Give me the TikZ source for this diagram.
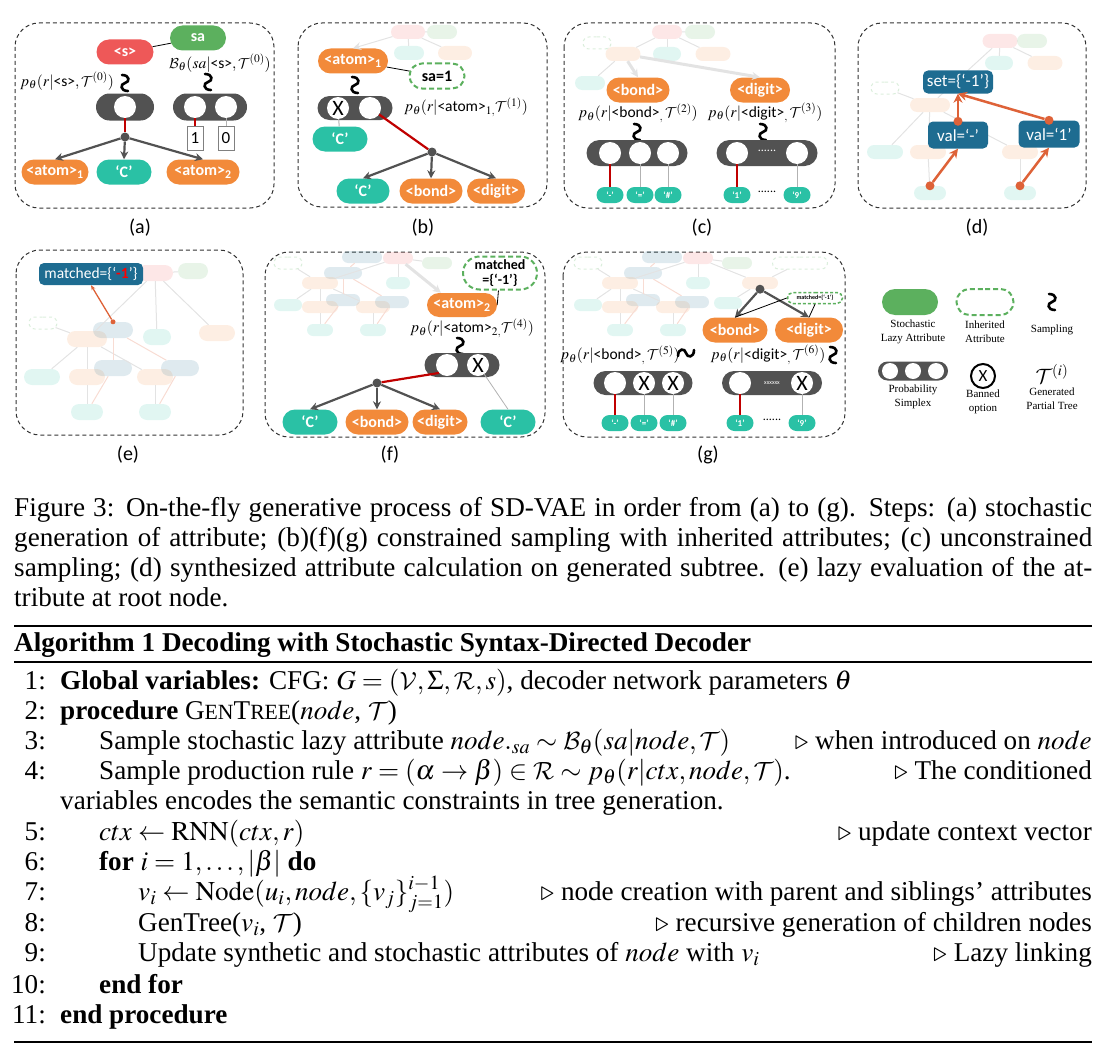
\documentclass[tikz,border=0pt]{standalone}
\usepackage{amsmath}
\usepackage{mathptmx}
\usepackage{fontspec}
\setmainfont{Liberation Serif}
\setsansfont{Carlito}
\usetikzlibrary{positioning, shapes.misc, arrows.meta, calc}
\DeclareMathAlphabet{\mathcmc}{OMS}{lmsy}{m}{n}

\definecolor{tokorange}{RGB}{242,138,58}
\definecolor{tokteal}{RGB}{42,193,165}
\definecolor{tokred}{RGB}{238,88,88}
\definecolor{tokgreen}{RGB}{92,176,94}
\definecolor{tokblue}{RGB}{30,108,145}
\definecolor{simgray}{RGB}{82,82,82}
\definecolor{pickred}{RGB}{192,0,0}
\definecolor{attorange}{RGB}{222,98,56}

\newcommand{\tkfont}{\sffamily\bfseries\fontsize{16}{16}\selectfont}
\newcommand{\lblfont}{\fontsize{15.5}{15.5}\selectfont}
\newcommand{\capfont}{\fontsize{27.15}{29.9}\selectfont}
\newcommand{\tk}[1]{\text{\sffamily\mdseries #1}}
\newcommand{\gentree}{G{\fontsize{21.7}{21.7}\selectfont EN}T{\fontsize{21.7}{21.7}\selectfont REE}}
% sampling squiggle
\newcommand{\sampsym}[2]{\draw[sampling] (#1-3,#2-8) .. controls (#1+5,#2-8) and (#1+5,#2-1) .. (#1,#2) .. controls (#1-5,#2+1) and (#1-5,#2+8) .. (#1+3,#2+8);}
% faded tree behind (f) and (g)
\newcommand{\oldtree}[1]{%
  \foreach \x/\y/\w/\c [count=\i] in {362/257/40pt/tokblue, 398/258/30pt/tokred, 437/263/30pt/tokgreen,
      343/273/38pt/tokblue, 320/283/36pt/tokorange, 398/283/24pt/tokteal, 288/305/28pt/tokteal,
      343/300/34pt/tokblue, 320/307/36pt/tokorange, 373/307/34pt/tokorange, 392/302/34pt/tokblue,
      320/330/26pt/tokteal, 373/330/26pt/tokteal}
    \node[faded=\c, minimum width=\w, minimum height=12pt] (#1\i) at (\x,\y) {};
  \node[fadedinh, minimum width=28pt] (#10) at (288,263) {};
  \foreach \a/\b in {2/3, 2/5, 2/6, 5/7, 5/9, 5/10, 9/12, 10/13, 0/5}
    \draw[fline] (#1\a) -- (#1\b);
  \foreach \a/\b in {8/4, 11/4, 12/8, 13/11, 4/1}
    \draw[fsynth] (#1\a) -- (#1\b);
}

\begin{document}
\begin{tikzpicture}[
  x=1pt, y=-1pt,
  >={Stealth[length=8pt,width=8pt]},
  every node/.style={inner sep=0pt},
  tok/.style={rounded rectangle, minimum height=25pt, text=white, font=\tkfont},
  otok/.style={tok, fill=tokorange},
  ttok/.style={tok, fill=tokteal},
  rtok/.style={tok, fill=tokred},
  gtok/.style={tok, fill=tokgreen},
  inh/.style={rounded rectangle, draw=tokgreen, line width=2pt, dash pattern=on 5pt off 3pt, minimum height=25pt, font=\tkfont},
  btok/.style={rectangle, rounded corners=5pt, fill=tokblue, text=white, font=\sffamily\fontsize{17}{17}\selectfont, minimum height=26pt},
  simplex/.style={rounded rectangle, fill=simgray, minimum height=26pt},
  optc/.style={circle, fill=white, minimum size=22pt, font=\sffamily\fontsize{22}{22}\selectfont},
  leaftok/.style={rounded rectangle, fill=tokteal, minimum height=16pt, minimum width=27pt, text=white, font=\sffamily\bfseries\fontsize{9}{9}\selectfont},
  bit/.style={draw=gray, fill=white, minimum width=16pt, minimum height=24pt, font=\sffamily\fontsize{17}{17}\selectfont},
  jn/.style={circle, fill=simgray, minimum size=9pt},
  odot/.style={circle, fill=attorange, minimum size=9pt},
  treearrow/.style={draw=simgray, line width=2.2pt, ->},
  pick/.style={draw=pickred, line width=2.2pt},
  skipline/.style={draw=gray!60, line width=1pt},
  attr/.style={draw=black, line width=0.8pt},
  synth/.style={draw=attorange, line width=2.5pt, -{Stealth[length=9pt,width=9pt]}},
  panelframe/.style={draw=black!80, line width=1pt, dash pattern=on 4pt off 3pt, rounded corners=24pt},
  sampling/.style={draw=black, line width=2.6pt, line cap=round},
  lbl/.style={font=\lblfont},
  tag/.style={font=\sffamily\fontsize{20}{20}\selectfont},
  faded/.style={rounded rectangle, fill=#1, fill opacity=0.14, minimum height=14pt},
  fadedinh/.style={rounded rectangle, draw=tokgreen!22, dashed, line width=1pt, minimum height=12pt},
  fline/.style={draw=gray!22, line width=1pt},
  fsynth/.style={draw=attorange!22, line width=1pt},
  legtext/.style={font=\fontsize{11}{14}\selectfont, align=center},
  alg/.style={font=\capfont}
]
\useasboundingbox (0,0) rectangle (1108,1057);

% (a) stochastic attribute
\draw[panelframe] (15,23) rectangle (274,208);
\node[tag] (ta) at (140,228) {(a)};
\node[rtok, minimum width=57pt] (s) at (125,52) {<s>};
\node[gtok, minimum width=56pt] (sa) at (198,38) {sa};
\draw[attr] (s) -- (sa);
\node[lbl] (pa) at (67,81) {$p_\theta(r|\tk{<s>},\mathcmc{T}^{(0)})$};
\node[lbl] (pb) at (220,63) {$\mathcmc{B}_\theta(sa|\tk{<s>},\mathcmc{T}^{(0)})$};
\sampsym{125}{83}
\sampsym{208}{82}
\node[simplex, minimum width=58pt, minimum height=27pt] (sxa) at (125,107) {};
\node[optc] (oa) at (125,107) {};
\node[simplex, minimum width=74pt, minimum height=27pt] (sxb) at (210,107) {};
\node[optc] (ob1) at (195,107) {};
\node[optc] (ob2) at (226,107) {};
\node[bit] (one) at (195,138) {1};
\node[bit] (zero) at (226,138) {0};
\draw[pick] (ob1) -- (one);
\draw[skipline] (ob2) -- (zero);
\node[jn] (ja) at (125,137) {};
\draw[pick] (oa) -- (ja);
\node[otok, minimum width=67pt] (at1) at (55,172) {<atom>\textsubscript{1}};
\node[ttok, minimum width=55pt] (ac) at (124,172) {‘C’};
\node[otok, minimum width=73pt] (at2) at (203,172) {<atom>\textsubscript{2}};
\foreach \t in {at1, ac, at2}
  \draw[treearrow] (ja) -- (\t.north);

% (b) inherited attribute
\draw[panelframe] (298,23) rectangle (547,207);
\node[tag] (tb) at (423,228) {(b)};
\foreach \x/\y/\w/\c [count=\i] in {408/32/34pt/tokred, 442/32/30pt/tokgreen, 409/53/30pt/tokteal, 455/53/34pt/tokorange}
  \node[faded=\c, minimum width=\w] (fb\i) at (\x,\y) {};
\foreach \a/\b in {1/2, 1/3, 1/4}
  \draw[fline] (fb\a) -- (fb\b);
\node[otok, minimum width=70pt] (b1) at (353,61) {<atom>\textsubscript{1}};
\draw[fline, ->] (fb1) -- (b1.north);
\node[inh, minimum width=55pt] (bsa) at (437,76) {sa=1};
\draw[attr] (b1) -- (bsa);
\sampsym{355}{85}
\node[simplex, minimum width=75pt, minimum height=24pt] (sxc) at (355,108) {};
\node[optc] (bx) at (338,108) {X};
\node[optc] (bo) at (370,108) {};
\node[lbl] (pc) at (466,107) {$p_\theta(r|\tk{<atom>}_{1,}\mathcmc{T}^{(1)})$};
\node[ttok, minimum width=55pt] (bc1) at (340,139) {‘C’};
\draw[skipline] (bx) -- (bc1);
\node[jn] (jb) at (432,152) {};
\draw[pick] (bo) -- (jb);
\node[ttok, minimum width=53pt] (bc2) at (363,191) {‘C’};
\node[otok, minimum width=63pt] (bb) at (431,191) {<bond>};
\node[otok, minimum width=58pt] (bdg) at (496,191) {<digit>};
\foreach \t in {bc2, bb, bdg}
  \draw[treearrow] (jb) -- (\t.north);

% (c) unconstrained sampling
\draw[panelframe] (564,23) rectangle (835,208);
\node[tag] (tc) at (702,228) {(c)};
\foreach \x/\y/\w/\c [count=\i] in {667/32/30pt/tokred, 700/32/30pt/tokgreen, 623/54/35pt/tokorange, 667/54/28pt/tokteal, 713/54/35pt/tokorange, 590/83/30pt/tokteal}
  \node[faded=\c, minimum width=\w] (fc\i) at (\x,\y) {};
\node[fadedinh, minimum width=28pt] (fc0) at (597,43) {};
\foreach \a/\b in {1/2, 1/3, 1/4, 1/5, 3/6, 0/3}
  \draw[fline] (fc\a) -- (fc\b);
\node[otok, minimum width=63pt] (cb) at (638,90) {<bond>};
\node[otok, minimum width=60pt] (cdg) at (760,90) {<digit>};
\draw[fline, line width=3pt, ->] (fc3) -- (cb.north);
\draw[fline, line width=3pt, ->] (fc3) -- (cdg.north);
\node[lbl] (pd) at (638,113) {$p_\theta(r|\tk{<bond>}_{,}\,\mathcmc{T}^{(2)})$};
\node[lbl] (pe) at (765,113) {$p_\theta(r|\tk{<digit>}_{,}\,\mathcmc{T}^{(3)})$};
\sampsym{637}{132}
\sampsym{763}{132}
\node[simplex, minimum width=101pt] (sxd) at (637,153) {};
\node[simplex, minimum width=101pt] (sxe) at (767,153) {};
\foreach \x [count=\i] in {610, 640, 668, 737, 797}
  \node[optc] (c\i) at (\x,153) {};
\node[font=\sffamily\fontsize{12}{12}\selectfont, text=white] (cdots) at (767,151) {......};
\foreach \x/\t [count=\i] in {610/‘-’, 640/‘=’, 668/‘\#’, 737/‘1’, 797/‘9’}
  \node[leaftok] (cl\i) at (\x,195) {\t};
\node[font=\sffamily\fontsize{12}{12}\selectfont] (cldots) at (767,192) {......};
\draw[pick] (c1) -- (cl1);
\draw[pick] (c4) -- (cl4);
\foreach \i in {2, 3, 5}
  \draw[skipline] (c\i) -- (cl\i);

% (d) synthesized attribute
\draw[panelframe] (858,23) rectangle (1086,208);
\node[tag] (td) at (977,228) {(d)};
\foreach \x/\y/\w/\c [count=\i] in {1000/41/35pt/tokred, 1032/41/30pt/tokgreen, 999/63/28pt/tokteal, 1045/63/35pt/tokorange,
    930/105/40pt/tokorange, 885/152/36pt/tokteal, 928/152/36pt/tokorange, 1020/152/36pt/tokorange,
    930/193/32pt/tokteal, 1020/193/32pt/tokteal}
  \node[faded=\c, minimum width=\w] (fd\i) at (\x,\y) {};
\node[fadedinh, minimum width=28pt] (fd0) at (885,88) {};
\foreach \a/\b in {1/2, 1/3, 1/4, 1/5, 0/5, 5/6, 5/7, 5/8, 7/9, 8/10}
  \draw[fline] (fd\a) -- (fd\b);
\node[btok, minimum width=70pt, minimum height=23pt] (dset) at (958,82) {set=\{‘-1’\}};
\node[btok, minimum width=60pt, minimum height=27pt] (dv1) at (958,135) {val=‘-’};
\node[btok, minimum width=61pt, minimum height=27pt] (dv2) at (1049,134) {val=‘1’};
\node[odot] (dd1) at (dv1.north) {};
\node[odot] (dd2) at (dv2.north) {};
\node[odot] (dd3) at (fd9.north) {};
\node[odot] (dd4) at (fd10.north) {};
\draw[synth] (dd1) -- (dset.south);
\draw[synth] (dd2) -- (dset.south);
\draw[synth] (dd3) -- (dv1.south);
\draw[synth] (dd4) -- (dv2.south);

% (e) lazy evaluation at the root
\draw[panelframe] (16,250) rectangle (243,435);
\node[tag] (te) at (128,455) {(e)};
\foreach \x/\y/\w/\c [count=\i] in {155/273/36pt/tokred, 193/271/30pt/tokgreen, 87/339/40pt/tokorange, 113/330/40pt/tokblue,
    157/337/28pt/tokteal, 217/333/36pt/tokorange, 42/377/36pt/tokteal, 87/377/36pt/tokorange, 113/368/38pt/tokblue,
    155/377/36pt/tokorange, 180/368/38pt/tokblue, 87/412/32pt/tokteal, 155/412/32pt/tokteal}
  \node[faded=\c, minimum width=\w, minimum height=16pt] (fe\i) at (\x,\y) {};
\node[fadedinh, minimum width=28pt] (fe0) at (43,323) {};
\foreach \a/\b in {1/2, 1/3, 1/5, 1/6, 0/3, 3/7, 3/8, 3/10, 8/12, 10/13}
  \draw[fline] (fe\a) -- (fe\b);
\foreach \a/\b in {9/4, 11/4, 12/9, 13/11}
  \draw[fsynth] (fe\a) -- (fe\b);
\node[btok, minimum width=104pt, minimum height=22pt, font=\sffamily\fontsize{15.5}{15.5}\selectfont] (em) at (91,274) {matched=\{‘{\bfseries\color{red}-1}’\}};
\node[odot, minimum size=5pt] (ed) at (fe4.north) {};
\draw[attorange, line width=1.3pt, -{Stealth[length=5pt,width=4pt]}] (ed) -- (em.south);

% (f) constrained by inherited attribute
\draw[panelframe] (265,252) rectangle (545,437);
\node[tag] (tf) at (390,455) {(f)};
\oldtree{ff}
\node[inh, minimum width=74pt, minimum height=33pt, align=center, font=\sffamily\bfseries\fontsize{14}{15}\selectfont] (fm) at (500,273) {matched\\=\{‘-1’\}};
\node[otok, minimum width=70pt, minimum height=24pt] (fa2) at (462,305) {<atom>\textsubscript{2}};
\draw[attr] (fm) -- (fa2.east);
\draw[fline, line width=3pt, ->] (ff2) -- (fa2.150);
\node[lbl] (pf) at (472,328) {$p_\theta(r|\tk{<atom>}_{2,}\mathcmc{T}^{(4)})$};
\sampsym{460}{346}
\node[simplex, minimum width=75pt, minimum height=24pt] (sxf) at (462,365) {};
\node[optc] (fo) at (447,365) {};
\node[optc] (fx) at (478,365) {X};
\node[jn] (jf) at (377,383) {};
\draw[pick] (fo.south west) -- (jf);
\node[ttok, minimum width=55pt] (fc1) at (310,422) {‘C’};
\node[otok, minimum width=63pt] (fb) at (377,422) {<bond>};
\node[otok, minimum width=55pt] (fdg) at (440,422) {<digit>};
\node[ttok, minimum width=55pt] (fc2) at (508,422) {‘C’};
\draw[skipline, line width=0.8pt] (fx) -- (fc2.north);
\foreach \t in {fc1, fb, fdg}
  \draw[treearrow] (jf) -- (\t.north);

% (g) constrained children
\draw[panelframe] (563,252) rectangle (845,437);
\node[tag] (tg) at (708,455) {(g)};
\begin{scope}[shift={(300,0)}]
  \oldtree{fg}
\end{scope}
\node[faded=tokorange, minimum width=36pt, minimum height=12pt] (fg14) at (760,283) {};
\node[faded=tokteal, minimum width=28pt, minimum height=12pt] (fg15) at (728,303) {};
\node[fadedinh, minimum width=55pt] (fg16) at (800,263) {};
\foreach \a/\b in {2/14, 14/15, 16/14}
  \draw[fline] (fg\a) -- (fg\b);
\node[jn] (jg) at (fg14.south) {};
\node[otok, minimum width=65pt] (gb) at (735,330) {<bond>};
\node[otok, minimum width=68pt] (gdg) at (809,330) {<digit>};
\node[inh, minimum width=55pt, minimum height=11pt, line width=1.5pt, dash pattern=on 3pt off 2pt, font=\sffamily\bfseries\fontsize{6}{6}\selectfont] (gm) at (815,298) {matched=\{‘-1’\}};
\foreach \t in {gb, gdg}
  \draw[treearrow] (jg) -- (\t.north);
\draw[attr] (gm.west) -- (gb.north);
\draw[attr] (gm.south) -- (gdg.north);
\node[lbl] (pg) at (620,355) {$p_\theta(r|\tk{<bond>}_{,}\,\mathcmc{T}^{(5)})$};
\begin{scope}[rotate around={90:(686,353)}]
  \sampsym{686}{353}
\end{scope}
\node[lbl] (ph) at (768,355) {$p_\theta(r|\tk{<digit>}_{,}\,\mathcmc{T}^{(6)})$};
\sampsym{833}{355}
\node[simplex, minimum width=99pt, minimum height=24pt] (gs1) at (643,383) {};
\node[simplex, minimum width=100pt, minimum height=24pt] (gs2) at (772,383) {};
\foreach \x/\t [count=\i] in {615/{}, 644/X, 673/X, 740/{}, 802/X}
  \node[optc] (g\i) at (\x,383) {\t};
\node[font=\sffamily\fontsize{6}{6}\selectfont, text=white] (gx) at (772,383) {xxxxxx};
\foreach \x/\t [count=\i] in {615/‘-’, 644/‘=’, 673/‘\#’, 740/‘1’, 802/‘9’}
  \node[leaftok] (gl\i) at (\x,423) {\t};
\node[font=\sffamily\fontsize{12}{12}\selectfont] (gldots) at (772,420) {......};
\draw[pick] (g1) -- (gl1);
\draw[pick] (g4) -- (gl4);
\foreach \i in {2, 3, 5}
  \draw[skipline] (g\i) -- (gl\i);

% legend
\node[gtok, minimum width=56pt, minimum height=26pt] (lga) at (910,302) {};
\node[legtext] (lta) at (913,332) {Stochastic\\Lazy Attribute};
\node[inh, minimum width=57pt, minimum height=26pt] (lgb) at (985,302) {};
\node[legtext] (ltb) at (985,332) {Inherited\\Attribute};
\sampsym{1052}{302}
\node[legtext] (ltc) at (1052,330) {Sampling};
\node[simplex, minimum width=70pt, minimum height=19pt] (lgd) at (913,371) {};
\foreach \x [count=\i] in {890, 913, 936}
  \node[optc, minimum size=16pt] (lo\i) at (\x,371) {};
\node[legtext] (ltd) at (913,397) {Probability\\Simplex};
\node[optc, draw=black, line width=2pt, minimum size=24pt, font=\sffamily\fontsize{17}{17}\selectfont] (lge) at (983,376) {X};
\node[legtext] (lte) at (983,402) {Banned\\option};
\node[font=\fontsize{20}{20}\selectfont] (lgf) at (1052,374) {$\mathcmc{T}^{(i)}$};
\node[legtext] (ltf) at (1052,399) {Generated\\Partial Tree};

% caption
\node[anchor=north west, text width=1078pt, align=justify, font=\capfont] (cap) at (14,497) {Figure 3: On-the-fly generative process of SD-VAE in order from (a) to (g).  Steps: (a) stochastic\linebreak generation of attribute; (b)(f)(g) constrained sampling with inherited attributes; (c) unconstrained\linebreak sampling; (d) synthesized attribute calculation on generated subtree. (e) lazy evaluation of the at-\linebreak tribute at root node.};

% algorithm
\draw[line width=2.2pt] (14,626) -- (1092,626);
\node[alg, anchor=base west] (atitle) at (14,651) {\textbf{Algorithm 1} \textbf{Decoding with Stochastic Syntax-Directed Decoder}};
\draw[line width=1.1pt] (14,662) -- (1092,662);
\foreach \n/\y in {1/689, 2/719, 3/749, 4/779, 5/840, 6/870, 7/900, 8/931, 9/961, 10/993, 11/1023}
  \node[alg, anchor=base east] (n\n) at (46,\y) {\n:};
\node[alg, anchor=base west] (a1) at (60,689) {\textbf{Global variables:} CFG: $G=(\mathcmc{V},\Sigma,\mathcmc{R},s)$, decoder network parameters $\theta$};
\node[alg, anchor=base west] (a2) at (60,719) {\textbf{procedure} \gentree($node$, $\mathcmc{T}$)};
\node[alg, anchor=base west] (a3) at (99,749) {Sample stochastic lazy attribute $node._{sa}\sim\mathcmc{B}_\theta(sa|node,\mathcmc{T})$};
\node[alg, anchor=base east] (k3) at (1092,749) {$\triangleright$ when introduced on $node$};
\node[alg, anchor=base west] (a4) at (99,779) {Sample production rule $r=(\alpha\to\beta)\in\mathcmc{R}\sim p_\theta(r|ctx,node,\mathcmc{T})$.};
\node[alg, anchor=base east] (k4) at (1092,779) {$\triangleright$ The conditioned};
\node[alg, anchor=base west] (a4b) at (60,809) {variables encodes the semantic constraints in tree generation.};
\node[alg, anchor=base west] (a5) at (99,840) {$ctx\leftarrow\mathrm{RNN}(ctx,r)$};
\node[alg, anchor=base east] (k5) at (1092,840) {$\triangleright$ update context vector};
\node[alg, anchor=base west] (a6) at (99,870) {\textbf{for} $i=1,\ldots,|\beta|$ \textbf{do}};
\node[alg, anchor=base west] (a7) at (138,900) {$v_i\leftarrow\mathrm{Node}(u_i,node,\{v_j\}_{j=1}^{i-1})$};
\node[alg, anchor=base east] (k7) at (1092,900) {$\triangleright$ node creation with parent and siblings’ attributes};
\node[alg, anchor=base west] (a8) at (138,931) {GenTree($v_i$, $\mathcmc{T}$)};
\node[alg, anchor=base east] (k8) at (1092,931) {$\triangleright$ recursive generation of children nodes};
\node[alg, anchor=base west] (a9) at (138,961) {Update synthetic and stochastic attributes of $node$ with $v_i$};
\node[alg, anchor=base east] (k9) at (1092,961) {$\triangleright$ Lazy linking};
\node[alg, anchor=base west] (a10) at (99,993) {\textbf{end for}};
\node[alg, anchor=base west] (a11) at (60,1023) {\textbf{end procedure}};
\draw[line width=2.2pt] (14,1042) -- (1092,1042);
\end{tikzpicture}
\end{document}
